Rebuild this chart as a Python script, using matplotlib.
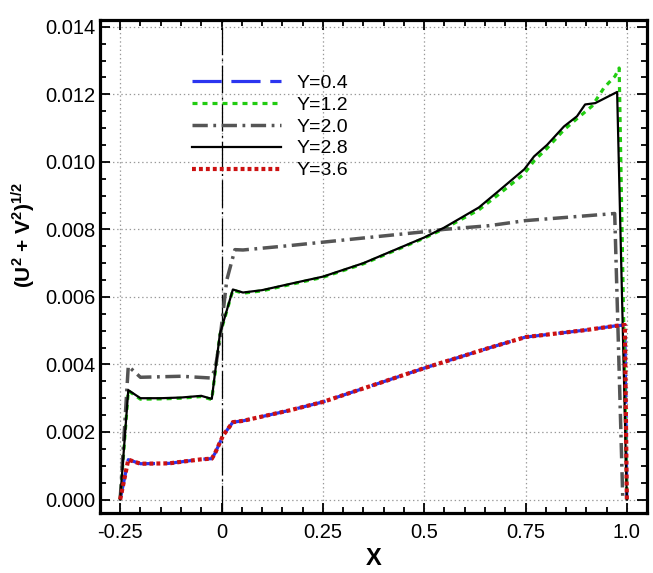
import matplotlib
matplotlib.use("Agg")
import matplotlib.pyplot as plt
from matplotlib.ticker import MultipleLocator, FixedLocator

plt.rcParams.update({
    "font.family": ["Liberation Sans", "DejaVu Sans"],
    "mathtext.fontset": "custom", "mathtext.rm": "Liberation Sans",
    "mathtext.bf": "Liberation Sans:bold",
    "lines.scale_dashes": False,
})

# curves
x_28 = [-0.25, -0.23, -0.20, -0.15, -0.10, -0.05, -0.024, -0.004, 0.028, 0.053, 0.10, 0.193,
        0.25, 0.35, 0.50, 0.549, 0.635, 0.68, 0.747, 0.771, 0.803, 0.845, 0.877, 0.897, 0.922,
        0.976, 1.0]
y_28 = [0.0, 0.00324, 0.00300, 0.00300, 0.00302, 0.00307, 0.00298, 0.00490, 0.00622, 0.00613,
        0.00620, 0.00645, 0.00660, 0.00700, 0.00776, 0.00805, 0.00865, 0.00910, 0.00978, 0.01016,
        0.01050, 0.01105, 0.01135, 0.01170, 0.01174, 0.01207, 0.0]

x_12 = [-0.25, -0.23, -0.20, -0.15, -0.10, -0.05, -0.024, -0.004, 0.028, 0.053, 0.10, 0.193,
        0.25, 0.35, 0.50, 0.549, 0.635, 0.68, 0.747, 0.771, 0.803, 0.845, 0.877, 0.914, 0.944,
        0.971, 0.981, 1.0]
y_12 = [0.0, 0.00322, 0.00297, 0.00298, 0.00300, 0.00305, 0.00296, 0.00488, 0.00620, 0.00611,
        0.00618, 0.00643, 0.00658, 0.00698, 0.00774, 0.00802, 0.00858, 0.00900, 0.00965, 0.01003,
        0.01040, 0.01095, 0.01128, 0.01165, 0.01220, 0.01254, 0.01278, 0.0]

x_20 = [-0.25, -0.23, -0.20, -0.10, -0.029, -0.016, -0.004, 0.013, 0.033, 0.053, 0.168,
        0.50, 0.549, 0.66, 0.75, 0.97, 0.99]
y_20 = [0.0, 0.00395, 0.00362, 0.00365, 0.00360, 0.00383, 0.00473, 0.00650, 0.00740, 0.00739,
        0.00752, 0.00793, 0.00800, 0.00811, 0.00826, 0.00847, 0.0]

x_36 = [-0.25, -0.23, -0.20, -0.13, -0.05, -0.024, -0.016, 0.004, 0.028, 0.053, 0.168, 0.25,
        0.50, 0.66, 0.75, 0.90, 0.97, 0.995, 1.0]
y_36 = [0.0, 0.00118, 0.00106, 0.00107, 0.00119, 0.00121, 0.00137, 0.00190, 0.00229, 0.00233,
        0.00264, 0.00289, 0.00389, 0.00449, 0.00481, 0.00502, 0.00514, 0.00517, 0.0]
x_04, y_04 = x_36, y_36   # Y=0.4 sits under Y=3.6

x_ticks = [-0.25, 0, 0.25, 0.5, 0.75, 1.0]
x_ticklabels = ["-0.25", "0", "0.25", "0.5", "0.75", "1.0"]

fig = plt.figure(figsize=(6.53, 5.73), dpi=100)
ax = fig.add_axes([0.153, 0.1047, 0.838, 0.8603])

ax.plot(x_04, y_04, color="#2b35f0", lw=2.3, dashes=(21, 7), label="Y=0.4")
ax.plot(x_12, y_12, color="#22cc11", lw=2.3, dashes=(3.6, 3.6), label="Y=1.2")
ax.plot(x_20, y_20, color="#555555", lw=2.5, dashes=(11, 4, 2, 4), label="Y=2.0")
ax.plot(x_28, y_28, color="black", lw=1.6, label="Y=2.8")
ax.plot(x_36, y_36, color="#cc1111", lw=3.0, dashes=(2.8, 2.2), label="Y=3.6")

ax.axvline(0, color="black", lw=0.9, dashes=(20, 3, 1.5, 3), zorder=1)

ax.set_xlim(-0.3, 1.05)
ax.set_ylim(-0.0004, 0.0142)
ax.xaxis.set_major_locator(FixedLocator(x_ticks))
ax.set_xticklabels(x_ticklabels)
ax.xaxis.set_minor_locator(MultipleLocator(0.05))
ax.yaxis.set_major_locator(MultipleLocator(0.002))
ax.yaxis.set_minor_locator(MultipleLocator(0.0005))
ax.yaxis.set_major_formatter(matplotlib.ticker.FormatStrFormatter("%.3f"))
ax.tick_params(which="both", direction="in", top=True, right=True, width=1.3, labelsize=14.5)
ax.tick_params(which="major", length=7)
ax.tick_params(which="minor", length=4)
ax.tick_params(axis="x", pad=7)
for s in ax.spines.values():
    s.set_linewidth(2.3)
ax.grid(True, which="major", color="#999999", lw=0.9, ls=(0, (1, 2)))
ax.set_axisbelow(True)

ax.set_xlabel("X", fontsize=17, fontweight="bold", labelpad=4)
ax.set_ylabel(r"(U$^\mathbf{2}$ + V$^\mathbf{2}$)$^\mathbf{1/2}$", fontsize=15, fontweight="bold")
ax.yaxis.set_label_coords(-0.115, 0.565)

ax.legend(loc="upper left", bbox_to_anchor=(0.15, 0.91), frameon=False, fontsize=14,
          handlelength=4.6, handletextpad=0.8, labelspacing=0.22, borderpad=0)

fig.savefig("out.png", dpi=100)
